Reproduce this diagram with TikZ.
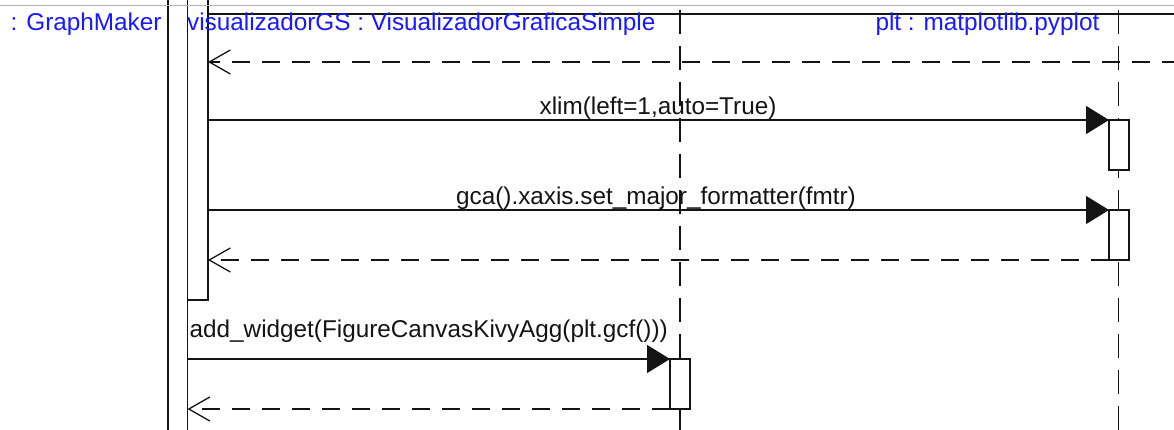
\documentclass[tikz,border=0pt]{standalone}
\usepackage{fontspec}
\setmainfont{Liberation Sans}
\usetikzlibrary{arrows.meta}
\definecolor{hdrblue}{RGB}{25,25,255}
\definecolor{topgray}{RGB}{178,178,192}
\definecolor{ink}{RGB}{20,20,20}
\begin{document}
\begin{tikzpicture}[x=1pt,y=-1pt,
  lbl/.style={font=\fontsize{24.3}{28}\selectfont, text=ink, inner sep=0pt},
  hdr/.style={font=\fontsize{24.3}{28}\selectfont, text=hdrblue, inner sep=0pt},
  actbox/.style={draw=ink, fill=white, line width=1.3pt, inner sep=0pt, outer sep=0pt},
  lifeline/.style={draw=ink, line width=1.3pt, dash pattern=on 24pt off 12pt},
  msg/.style={draw=ink, line width=1.3pt, -{Triangle[length=23pt,width=28pt]}},
  ret/.style={draw=ink, line width=1.3pt, dash pattern=on 18pt off 12pt,
              -{Straight Barb[length=21pt,width=24pt]}}]
\useasboundingbox (0,0) rectangle (1174,430);
\clip (0,0) rectangle (1174,430);
\fill[white] (0,0) rectangle (1174,430);

% lifelines
\coordinate (vtop) at (680,10);
\coordinate (vbot) at (680,440);
\coordinate (ptop) at (1118.5,10);
\coordinate (pbot) at (1118.5,440);
\draw[lifeline] (vtop) -- (vbot);
\draw[lifeline] (ptop) -- (pbot);

% GraphMaker activation and nested activation
\node[actbox, minimum width=19.5pt, minimum height=460pt, anchor=north west] (gm) at (168,-10) {};
\node[actbox, minimum width=20.5pt, minimum height=310pt, anchor=north west] (nest) at (187.5,-10) {};

% plt activations
\node[actbox, minimum width=20pt, minimum height=50pt, anchor=north west] (p1) at (1109,120) {};
\node[actbox, minimum width=20pt, minimum height=50pt, anchor=north west] (p2) at (1109,210) {};
% visualizador activation
\node[actbox, minimum width=20pt, minimum height=50pt, anchor=north west] (v1) at (670,359) {};

% top lines
\coordinate (tl0) at (0,5.5);
\coordinate (tl1) at (1174,5.5);
\draw[topgray, line width=1.6pt] (tl0) -- (tl1);
\coordinate (hb1) at (1180,14);
\draw[ink, line width=2pt] (nest.east |- hb1) -- (hb1);

% messages
\coordinate (r0) at (1180,62);
\draw[ret] (r0) -- (r0 -| nest.east);
\draw[msg] (p1.north west -| nest.east) -- (p1.north west);
\draw[msg] (p2.north west -| nest.east) -- (p2.north west);
\draw[ret] (p2.south west) -- (p2.south west -| nest.east);
\draw[msg] (v1.north west -| gm.east) -- (v1.north west);
\draw[ret] (v1.south west) -- (v1.south west -| gm.east);

% labels
\node[lbl, anchor=base] (l1) at (658,114.5) {xlim(left=1,auto=True)};
\node[lbl, anchor=base] (l2) at (656,204.5) {gca().xaxis.set\_major\_formatter(fmtr)};
\node[lbl, anchor=base west] (l3) at (189.5,337) {add\_widget(FigureCanvasKivyAgg(plt.gcf()))};

% headers
\node[hdr, anchor=base west] (h1) at (10.5,31) {: GraphMaker};
\node[hdr, anchor=base west] (h2) at (187,31) {visualizadorGS : VisualizadorGraficaSimple};
\node[hdr, anchor=base east] (h3) at (1099.5,31) {plt : matplotlib.pyplot};
\end{tikzpicture}
\end{document}
